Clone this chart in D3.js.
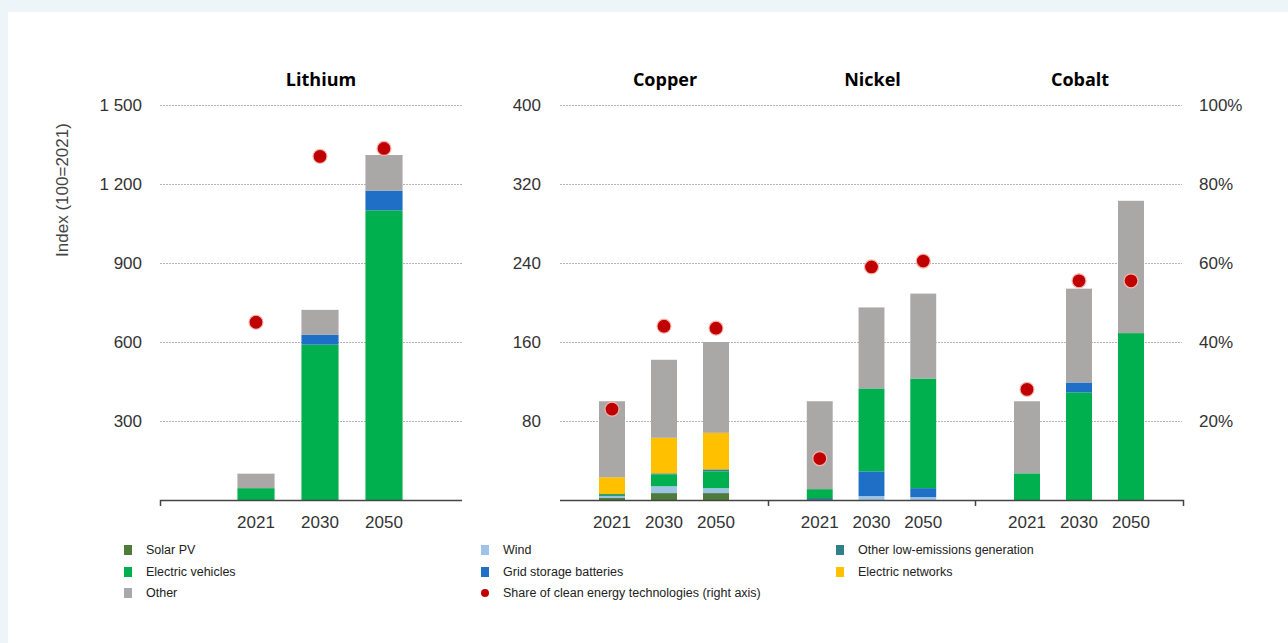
<!DOCTYPE html>
<html><head><meta charset="utf-8">
<script src="https://cdn.jsdelivr.net/npm/d3@7"></script>
<style>
html,body{margin:0;padding:0;background:#edf5f8;}
svg{display:block;}
</style></head>
<body>
<svg id="chart" width="1288" height="643"></svg>
<script>
// ---------- data ----------
const years = ["2021", "2030", "2050"];
const minerals = ["Lithium", "Copper", "Nickel", "Cobalt"];
const seriesKeys = ["solar", "wind", "otherLow", "grid", "ev", "networks", "other"];
const seriesNames = ["Solar PV", "Wind", "Other low-emissions generation", "Grid storage batteries", "Electric vehicles", "Electric networks", "Other"];
const seriesColors = ["#4e7b3a", "#9dc3e6", "#2f8088", "#1f6fc6", "#00b04f", "#ffc000", "#aaa7a7"];

// values (index, 100 = 2021) per mineral, per year [2021, 2030, 2050]
const lithiumSolar = [0, 0, 0];
const lithiumWind = [0, 0, 0];
const lithiumOtherLow = [0, 0, 0];
const lithiumGrid = [0, 37, 75];
const lithiumEV = [45, 590, 1100];
const lithiumNetworks = [0, 0, 0];
const lithiumOther = [55, 95, 135];

const copperSolar = [2, 7, 7];
const copperWind = [2, 7, 5];
const copperOtherLow = [1, 1, 2];
const copperGrid = [0, 0, 0];
const copperEV = [1, 12, 17];
const copperNetworks = [17, 36, 37];
const copperOther = [77, 79, 92];

const nickelSolar = [0, 0, 0];
const nickelWind = [0, 4, 3];
const nickelOtherLow = [2, 0, 0];
const nickelGrid = [0, 25, 9];
const nickelEV = [9, 84, 111];
const nickelNetworks = [0, 0, 0];
const nickelOther = [89, 82, 86];

const cobaltSolar = [0, 0, 0];
const cobaltWind = [0, 0, 0];
const cobaltOtherLow = [0, 0, 0];
const cobaltGrid = [0, 10, 0];
const cobaltEV = [27, 109, 169];
const cobaltNetworks = [0, 0, 0];
const cobaltOther = [73, 95, 134];

// share of clean energy technologies (right axis, %)
const lithiumShare = [45, 87, 89];
const copperShare = [23, 44, 43.5];
const nickelShare = [10.5, 59, 60.5];
const cobaltShare = [28, 55.5, 55.5];

// stacking order (bottom to top) per mineral
const lithiumOrder = ["solar", "wind", "otherLow", "ev", "grid", "networks", "other"];
const copperOrder = ["solar", "wind", "ev", "otherLow", "grid", "networks", "other"];
const nickelOrder = ["otherLow", "solar", "wind", "grid", "ev", "networks", "other"];
const cobaltOrder = ["solar", "wind", "otherLow", "ev", "grid", "networks", "other"];

const leftTicks = [300, 600, 900, 1200, 1500];
const leftTickLabels = ["300", "600", "900", "1 200", "1 500"];
const midTicks = [80, 160, 240, 320, 400];
const rightTicks = [20, 40, 60, 80, 100];

// ---------- build tables ----------
const src = {
  Lithium: {solar: lithiumSolar, wind: lithiumWind, otherLow: lithiumOtherLow, grid: lithiumGrid, ev: lithiumEV, networks: lithiumNetworks, other: lithiumOther, share: lithiumShare, order: lithiumOrder},
  Copper: {solar: copperSolar, wind: copperWind, otherLow: copperOtherLow, grid: copperGrid, ev: copperEV, networks: copperNetworks, other: copperOther, share: copperShare, order: copperOrder},
  Nickel: {solar: nickelSolar, wind: nickelWind, otherLow: nickelOtherLow, grid: nickelGrid, ev: nickelEV, networks: nickelNetworks, other: nickelOther, share: nickelShare, order: nickelOrder},
  Cobalt: {solar: cobaltSolar, wind: cobaltWind, otherLow: cobaltOtherLow, grid: cobaltGrid, ev: cobaltEV, networks: cobaltNetworks, other: cobaltOther, share: cobaltShare, order: cobaltOrder}
};
const colorOf = d3.scaleOrdinal().domain(seriesKeys).range(seriesColors);

// ---------- layout ----------
const svg = d3.select("#chart");
svg.append("rect").attr("x", 8).attr("y", 12).attr("width", 1280).attr("height", 631).attr("fill", "#ffffff");

const yTop = 105, yBase = 500;
const yLeft = d3.scaleLinear().domain([0, 1500]).range([yBase, yTop]);
const yMid = d3.scaleLinear().domain([0, 400]).range([yBase, yTop]);
const yRight = d3.scaleLinear().domain([0, 100]).range([yBase, yTop]);

const groupX = d3.scaleOrdinal().domain(minerals).range([[192, 448], [560, 768], [768, 975], [975, 1183]]);
const tickFont = "'Liberation Sans', Arial, sans-serif";

// gridlines
function grid(ticks, scale, x0, x1) {
  svg.append("g").selectAll("line").data(ticks).join("line")
    .attr("x1", x0).attr("x2", x1)
    .attr("y1", d => Math.round(scale(d)) + 0.5).attr("y2", d => Math.round(scale(d)) + 0.5)
    .attr("stroke", "#b4b4b4").attr("stroke-width", 1).attr("stroke-dasharray", "2,1");
}
grid(leftTicks, yLeft, 160, 462);
grid(midTicks, yMid, 560, 1182);

// axis labels
svg.append("g").selectAll("text").data(leftTicks).join("text")
  .attr("x", 142).attr("y", d => yLeft(d)).attr("dy", "0.35em")
  .attr("text-anchor", "end").attr("font-family", tickFont).attr("font-size", 17).attr("fill", "#333")
  .text((d, i) => leftTickLabels[i]);
svg.append("g").selectAll("text").data(midTicks).join("text")
  .attr("x", 541).attr("y", d => yMid(d)).attr("dy", "0.35em")
  .attr("text-anchor", "end").attr("font-family", tickFont).attr("font-size", 17).attr("fill", "#333")
  .text(d => d);
svg.append("g").selectAll("text").data(rightTicks).join("text")
  .attr("x", 1199).attr("y", d => yRight(d)).attr("dy", "0.35em")
  .attr("text-anchor", "start").attr("font-family", tickFont).attr("font-size", 17).attr("fill", "#333")
  .text(d => d + "%");

// y title
svg.append("text")
  .attr("transform", "translate(68,190) rotate(-90)")
  .attr("text-anchor", "middle").attr("font-family", tickFont).attr("font-size", 17).attr("fill", "#444")
  .text("Index (100=2021)");

// panels
minerals.forEach((m, mi) => {
  const [gx0, gx1] = groupX(m);
  const isLi = m === "Lithium";
  const x = d3.scaleBand().domain(years)
    .range([gx0, gx1])
    .paddingInner(isLi ? 0.42 : 0.5).paddingOuter(isLi ? 0.71 : 0.75);
  const y = isLi ? yLeft : yMid;
  const S = src[m];
  const rows = years.map((yr, i) => {
    const r = {year: yr};
    seriesKeys.forEach(k => r[k] = S[k][i]);
    return r;
  });
  const stacked = d3.stack().keys(S.order)(rows);
  const g = svg.append("g");
  g.selectAll("g").data(stacked).join("g")
    .attr("fill", d => colorOf(d.key))
    .selectAll("rect").data(d => d.filter(p => p[1] - p[0] > 0)).join("rect")
      .attr("x", p => x(p.data.year))
      .attr("width", x.bandwidth())
      .attr("y", p => y(p[1]))
      .attr("height", p => y(p[0]) - y(p[1]));

  // share dots
  g.selectAll("circle").data(years).join("circle")
    .attr("cx", yr => x(yr) + x.bandwidth() / 2)
    .attr("cy", (yr, i) => yRight(S.share[i]))
    .attr("r", 7)
    .attr("fill", "#c00000")
    .attr("stroke", "#f2b8b0").attr("stroke-width", 1.2);

  // x labels
  g.selectAll("text.yr").data(years).join("text").attr("class", "yr")
    .attr("x", yr => x(yr) + x.bandwidth() / 2).attr("y", 528)
    .attr("text-anchor", "middle").attr("font-family", tickFont).attr("font-size", 17).attr("fill", "#333")
    .text(yr => yr);

  // title
  svg.append("text")
    .attr("x", (gx0 + gx1) / 2 + 1).attr("y", 86)
    .attr("text-anchor", "middle").attr("font-family", "'Open Sans', sans-serif")
    .attr("font-weight", "bold").attr("font-size", 18).attr("fill", "#000")
    .text(m);
});

// baselines
const axisColor = "#444";
svg.append("path").attr("d", `M160.5,506V500.5H462`).attr("fill", "none").attr("stroke", axisColor).attr("stroke-width", 1.5);
svg.append("path").attr("d", `M560,500.5H1183.5V506`).attr("fill", "none").attr("stroke", axisColor).attr("stroke-width", 1.5);
svg.append("g").selectAll("line").data([768, 975]).join("line")
  .attr("x1", d => d + 0.5).attr("x2", d => d + 0.5).attr("y1", 500).attr("y2", 506)
  .attr("stroke", axisColor).attr("stroke-width", 1.5);

// legend
const legendItems = [
  {k: "solar", col: 0, row: 0}, {k: "ev", col: 0, row: 1}, {k: "other", col: 0, row: 2},
  {k: "wind", col: 1, row: 0}, {k: "grid", col: 1, row: 1}, {k: "share", col: 1, row: 2},
  {k: "otherLow", col: 2, row: 0}, {k: "networks", col: 2, row: 1}
];
const legX = [124, 481, 836], legY = [550, 572, 593];
const lg = svg.append("g").attr("font-family", "'Liberation Sans', Arial, sans-serif").attr("font-size", 12.5).attr("fill", "#222");
legendItems.forEach(it => {
  const lx = legX[it.col], ly = legY[it.row];
  if (it.k === "share") {
    lg.append("circle").attr("cx", lx + 4).attr("cy", ly).attr("r", 4).attr("fill", "#c00000");
    lg.append("text").attr("x", lx + 22).attr("y", ly).attr("dy", "0.35em").text("Share of clean energy technologies (right axis)");
  } else {
    lg.append("rect").attr("x", lx).attr("y", ly - 5).attr("width", 8).attr("height", 10).attr("fill", colorOf(it.k));
    lg.append("text").attr("x", lx + 22).attr("y", ly).attr("dy", "0.35em").text(seriesNames[seriesKeys.indexOf(it.k)]);
  }
});
</script>
</body></html>
